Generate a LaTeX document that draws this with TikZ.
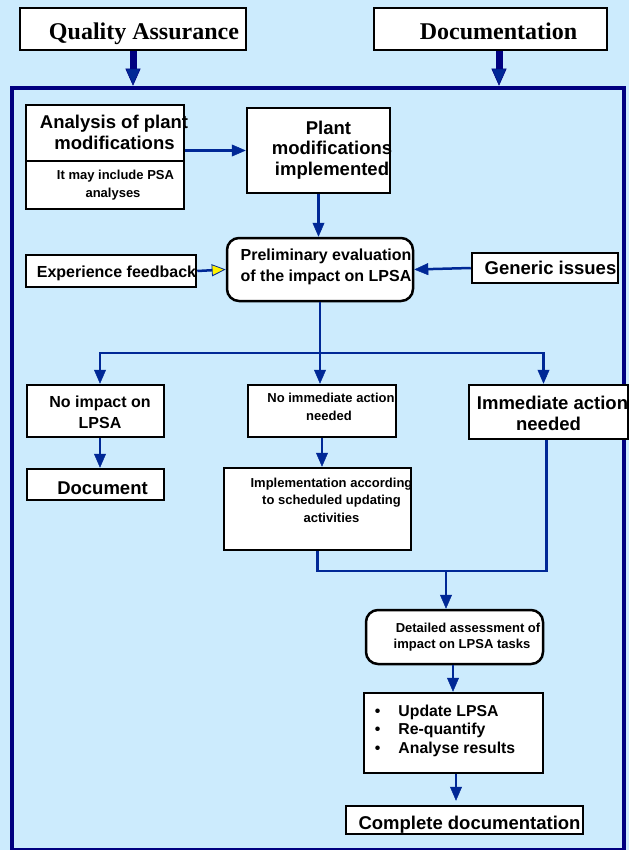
\documentclass[tikz,border=0pt]{standalone}
\usepackage{fontspec}
\setmainfont{Liberation Sans}
\newfontfamily\timesfont{Liberation Serif}
\usetikzlibrary{arrows.meta}

\definecolor{skyback}{RGB}{204,235,253}
\definecolor{navyframe}{RGB}{0,0,128}
\definecolor{flowblue}{RGB}{0,40,150}

\newcommand\fixw[1]{\makebox[0pt]{\begin{tabular}{@{}c@{}}#1\end{tabular}}}

\begin{document}
\begin{tikzpicture}[x=1pt,y=-1pt,
  box/.style={draw=black, line width=2.5pt, fill=white, inner sep=0pt, align=center},
  rbox/.style={box, rounded corners=12pt},
  txt/.style={inner sep=0pt, align=center},
  head/.style={font=\timesfont\bfseries\fontsize{24}{26}\selectfont},
  big/.style={font=\bfseries\fontsize{18.5}{20.5}\selectfont},
  mid/.style={font=\bfseries\fontsize{16}{21}\selectfont},
  small/.style={font=\bfseries\fontsize{13}{18}\selectfont},
  flow/.style={flowblue, line width=2.5pt, -{Triangle[width=12pt,length=14pt,line width=0.5pt]}},
  flowline/.style={flowblue, line width=2.5pt},
  bigflow/.style={navyframe, line width=7pt, -{Triangle[width=15pt,length=17pt,fill=flowblue,line width=0.5pt]}}]

\fill[skyback] (0,0) rectangle (629,850);
\useasboundingbox (0,0) rectangle (629,850);

\node[box, head, minimum width=226pt, minimum height=42pt] (qa) at (133,29) {\makebox[0pt]{\rule{0pt}{27pt}\hspace*{22pt}Quality Assurance}};
\node[box, head, minimum width=233pt, minimum height=42pt] (doc) at (490.5,29) {\makebox[0pt]{\rule{0pt}{21pt}\hspace*{16pt}Documentation}};
\node[draw=navyframe, line width=4.5pt, minimum width=612pt, minimum height=762.5pt, inner sep=0pt] (frame) at (318,469.25) {};

\draw[bigflow] (qa.south) -- (qa.south |- frame.north);
\draw[bigflow] ([xshift=8.5pt]doc.south) -- ([xshift=8.5pt]doc.south |- frame.north);

\node[box, big, minimum width=158pt, minimum height=56pt] (anal) at (105,133) {\fixw{\rule{0pt}{18.5pt}\hspace*{18pt}Analysis of plant\\\hspace*{19pt}modifications}};
\node[box, small, line width=1.5pt, minimum width=158pt, minimum height=48pt] (analnote) at (105,185) {\fixw{\hspace*{21pt}It may include PSA\\\hspace*{16pt}analyses}};
\node[box, big, minimum width=143pt, minimum height=85pt] (plant) at (318.5,150.5) {\fixw{\hspace*{20pt}Plant\\\hspace*{27pt}modifications\\\hspace*{27pt}implemented}};
\node[rbox, mid, minimum width=186pt, minimum height=63pt] (prelim) at (320,269.5) {\fixw{\hspace*{12pt}Preliminary evaluation\\\hspace*{12pt}of the impact on LPSA\rule[-12pt]{0pt}{12pt}}};
\node[box, mid, minimum width=170pt, minimum height=32pt] (expf) at (111,271) {\makebox[0pt]{\rule{0pt}{16pt}\hspace*{11pt}Experience feedback}};
\node[box, big, minimum width=146pt, minimum height=30pt] (gen) at (545,268) {\makebox[0pt]{\hspace*{11pt}Generic issues}};

\node[box, mid, minimum width=137pt, minimum height=52pt] (noimp) at (95.5,411) {\fixw{\rule{0pt}{20.7pt}\hspace*{9pt}No impact on\\\hspace*{9pt}LPSA}};
\node[box, small, minimum width=148pt, minimum height=52pt] (noact) at (322,411) {\fixw{\hspace*{18pt}No immediate action\\\hspace*{14pt}needed\rule[-11.4pt]{0pt}{11.4pt}}};
\node[box, big, minimum width=159pt, minimum height=54pt] (immact) at (548.5,412) {\fixw{\rule{0pt}{22pt}\hspace*{8pt}Immediate action\\needed}};
\node[box, big, minimum width=137pt, minimum height=31pt] (docu) at (95.5,484.5) {\makebox[0pt]{\rule{0pt}{19.5pt}\hspace*{14pt}Document}};
\node[box, minimum width=187pt, minimum height=82pt] (impl) at (317.5,509) {};
\node[txt, small, font=\bfseries\fontsize{13}{17.5}\selectfont, anchor=north] (impltxt) at ([xshift=14pt,yshift=-11pt]impl.north) {Implementation according\\to scheduled updating\\activities};

\node[rbox, small, font=\bfseries\fontsize{13}{16.5}\selectfont, minimum width=177pt, minimum height=54pt] (detail) at (454.5,637) {\fixw{\hspace*{27pt}Detailed assessment of\\\hspace*{15pt}impact on LPSA tasks}};
\node[box, minimum width=179pt, minimum height=80pt] (upd) at (453.5,733) {};
\node[txt, anchor=north west, align=left, font=\bfseries\fontsize{15.8}{18.5}\selectfont] (updtxt) at ([xshift=12pt,yshift=-13pt]upd.north west) {%
\textbullet\hspace{18pt}Update LPSA\\\textbullet\hspace{18pt}Re-quantify\\\textbullet\hspace{18pt}Analyse results};
\node[box, font=\bfseries\fontsize{18.5}{20}\selectfont, minimum width=237pt, minimum height=28pt] (compl) at (464.5,820) {\makebox[0pt]{\rule{0pt}{23.5pt}\hspace*{10pt}Complete documentation}};

\draw[flow] (anal.east |- plant.west) -- (plant.west);
\draw[flow] (plant.south) -- (plant.south |- prelim.north);
\draw[flowblue, line width=2.5pt, -{Triangle[width=12pt,length=14pt,fill=yellow,line width=0.8pt]}] (expf.east) -- (prelim.west);
\draw[flow] (gen.west) -- (prelim.east);

\coordinate (fork) at (prelim.south |- 0,353);
\draw[flow] (prelim.south) -- (prelim.south |- noact.north);
\draw[flow] (fork) -| ([xshift=4.5pt]noimp.north);
\draw[flow] (fork) -| ([xshift=-5pt]immact.north);
\draw[flow] ([xshift=4.5pt]noimp.south) -- ([xshift=4.5pt]docu.north);
\draw[flow] (noact.south) -- (noact.south |- impl.north);

\coordinate (merge) at (446,571);
\draw[flowline] (impl.south) |- ([xshift=-2pt]immact.south |- merge) -- ([xshift=-2pt]immact.south);
\draw[flow] (merge) -- (merge |- detail.north);
\draw[flow] ([xshift=-1.5pt]detail.south) -- ([xshift=-1.5pt]detail.south |- upd.north);
\draw[flow] ([xshift=2.5pt]upd.south) -- ([xshift=2.5pt,yshift=4pt]upd.south |- compl.north);

\end{tikzpicture}
\end{document}
